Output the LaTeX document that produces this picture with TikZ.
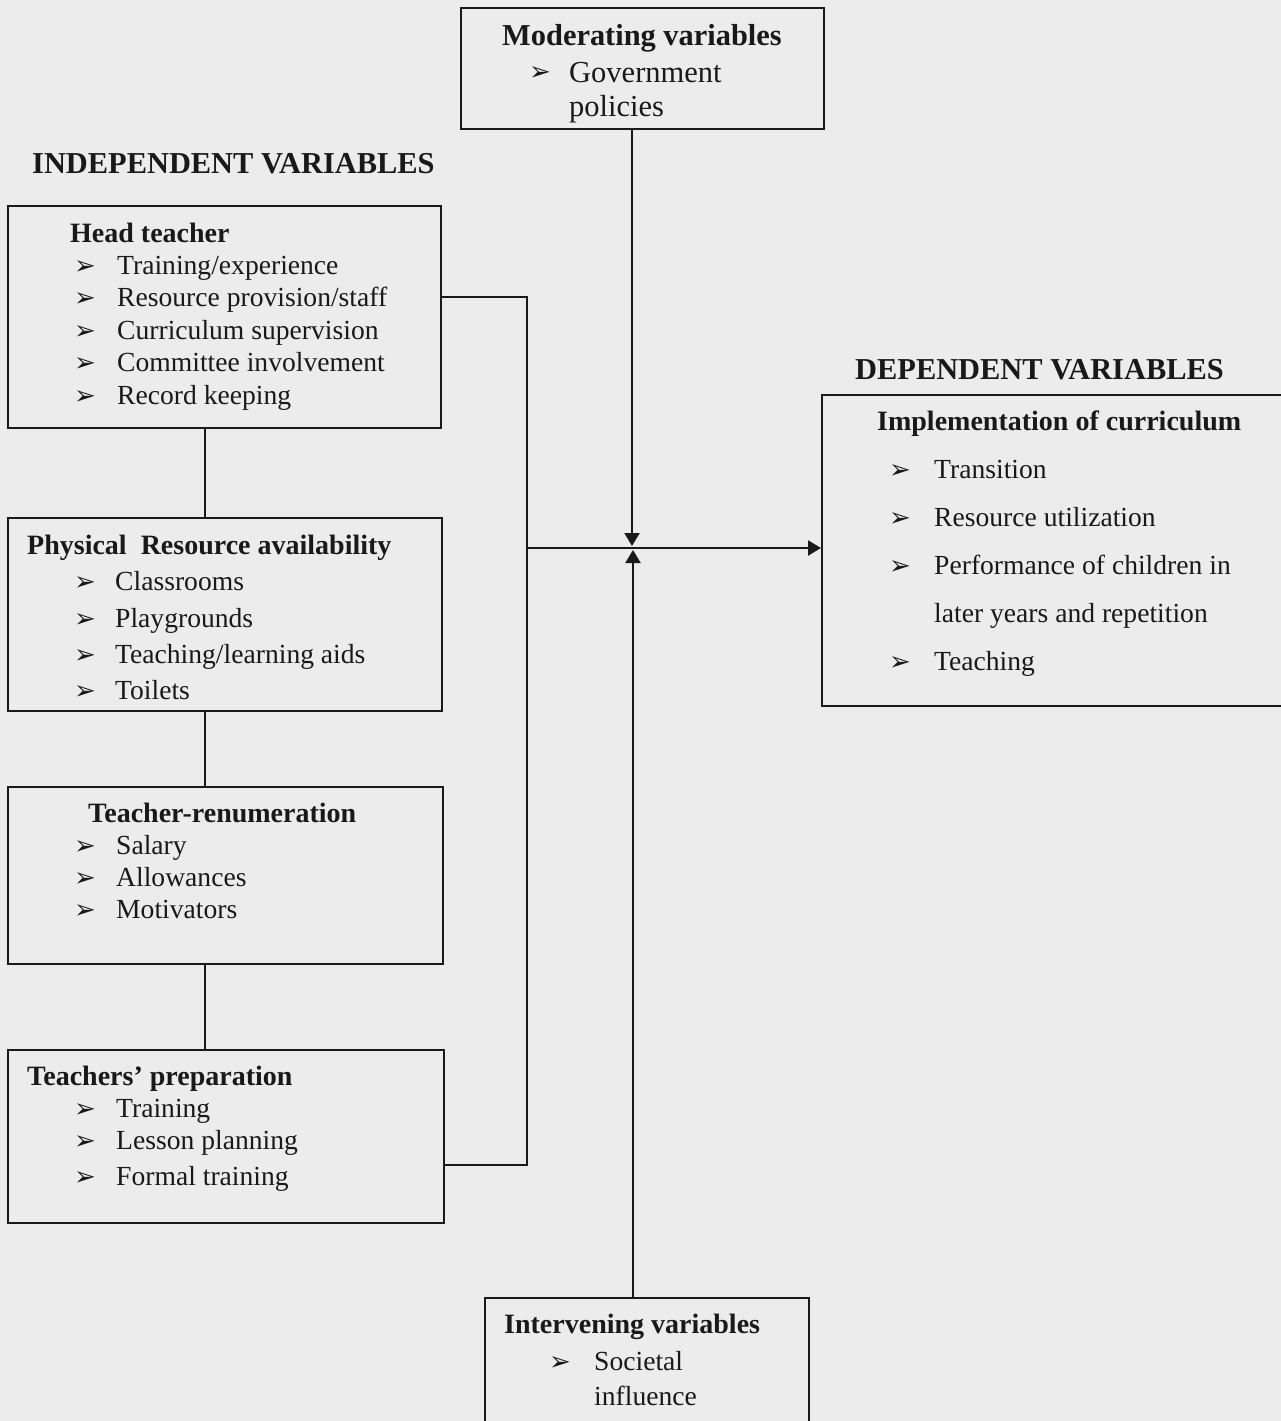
\documentclass[tikz,border=0pt]{standalone}
\usepackage{fontspec}
\setmainfont{Liberation Serif}
\newfontfamily\bulfont{DejaVu Sans}
\usetikzlibrary{arrows.meta}
\definecolor{paper}{RGB}{236,236,236}
\definecolor{ink}{RGB}{25,25,25}
\tikzset{
  box/.style={draw=ink, line width=2.2pt, anchor=north west, inner sep=0pt},
  txt/.style={anchor=base west, inner sep=0pt, text=ink, font=\fontsize{27.6}{32}\selectfont},
  bigtxt/.style={anchor=base west, inner sep=0pt, text=ink, font=\fontsize{30.5}{34}\selectfont},
  hd/.style={anchor=base west, inner sep=0pt, text=ink, font=\fontsize{28}{32}\selectfont\bfseries},
  bighd/.style={anchor=base west, inner sep=0pt, text=ink, font=\fontsize{30.4}{34}\selectfont\bfseries},
  bul/.style={anchor=base west, inner sep=0pt, text=ink, font=\bulfont\fontsize{26}{26}\selectfont},
  conn/.style={draw=ink, line width=2.2pt},
  arr/.style={conn, -{Triangle[width=15pt,length=13pt]}}
}
\begin{document}
\begin{tikzpicture}[x=1pt,y=-1pt]
\useasboundingbox[fill=paper] (0,0) rectangle (1281,1421);

% boxes
\node[box, minimum width=433pt, minimum height=222pt] (head) at (7,205) {};
\node[box, minimum width=434pt, minimum height=193pt] (phys) at (7,517) {};
\node[box, minimum width=435pt, minimum height=177pt] (renum) at (7,786) {};
\node[box, minimum width=436pt, minimum height=173pt] (prep) at (7,1049) {};
\node[box, minimum width=363pt, minimum height=121pt] (mod) at (460,7) {};
\node[box, minimum width=480pt, minimum height=311pt] (dep) at (821,394) {};
\node[box, minimum width=324pt, minimum height=140pt] (int) at (484,1297) {};

% titles
\node[bighd] (indep) at (32,173) {INDEPENDENT VARIABLES};
\node[bighd] (deptitle) at (855,379) {DEPENDENT VARIABLES};

% Head teacher
\node[hd] (h0) at (70,242) {Head teacher};
\foreach \y/\t [count=\i] in {274/{Training/experience},306/{Resource provision/staff},339/{Curriculum supervision},371/{Committee involvement},404/{Record keeping}}{
  \node[bul] (hb\i) at (74,\y) {➢};
  \node[txt] (ht\i) at (117,\y) {\t};
}

% Physical
\node[hd] (p0) at (27,554) {Physical\ \ Resource availability};
\foreach \y/\t [count=\i] in {590/{Classrooms},627/{Playgrounds},663/{Teaching/learning aids},699/{Toilets}}{
  \node[bul] (pb\i) at (74,\y) {➢};
  \node[txt] (pt\i) at (115,\y) {\t};
}

% Renumeration
\node[hd] (r0) at (88,822) {Teacher-renumeration};
\foreach \y/\t [count=\i] in {854/{Salary},886/{Allowances},918/{Motivators}}{
  \node[bul] (rb\i) at (74,\y) {➢};
  \node[txt] (rt\i) at (116,\y) {\t};
}

% Preparation
\node[hd] (q0) at (27,1085) {Teachers’ preparation};
\foreach \y/\t [count=\i] in {1117/{Training},1149/{Lesson planning},1185/{Formal training}}{
  \node[bul] (qb\i) at (74,\y) {➢};
  \node[txt] (qt\i) at (116,\y) {\t};
}

% Moderating
\node[bighd] (m0) at (502,46) {Moderating variables};
\node[bul] (mb) at (529,81) {➢};
\node[bigtxt] (m1) at (569,82) {Government};
\node[bigtxt] (m2) at (569,116) {policies};

% Dependent
\node[hd] (d0) at (877,430) {Implementation of curriculum};
\foreach \y/\t [count=\i] in {478/{Transition},526/{Resource utilization},574/{Performance of children in},670/{Teaching}}{
  \node[bul] (db\i) at (889,\y) {➢};
  \node[txt] (dt\i) at (934,\y) {\t};
}
\node[txt] (dt5) at (934,622) {later years and repetition};

% Intervening
\node[hd] (i0) at (504,1333) {Intervening variables};
\node[bul] (ib) at (549,1370) {➢};
\node[txt] (i1) at (594,1370) {Societal};
\node[txt] (i2) at (594,1405) {influence};

% connectors
\coordinate (v) at (205,0);
\coordinate (b1) at (527,297);
\coordinate (b2) at (527,1165);
\coordinate (j) at (527,548);
\coordinate (mt) at (632,546);
\coordinate (it) at (633,550);

\draw[conn] (head.south -| v) -- (phys.north -| v);
\draw[conn] (phys.south -| v) -- (renum.north -| v);
\draw[conn] (renum.south -| v) -- (prep.north -| v);
\draw[conn] (head.east |- b1) -- (b1) -- (b2) -- (prep.east |- b2);
\draw[arr] (j) -- (dep.west |- j);
\draw[arr] (mod.south -| mt) -- (mt);
\draw[arr] (int.north -| it) -- (it);
\end{tikzpicture}
\end{document}
